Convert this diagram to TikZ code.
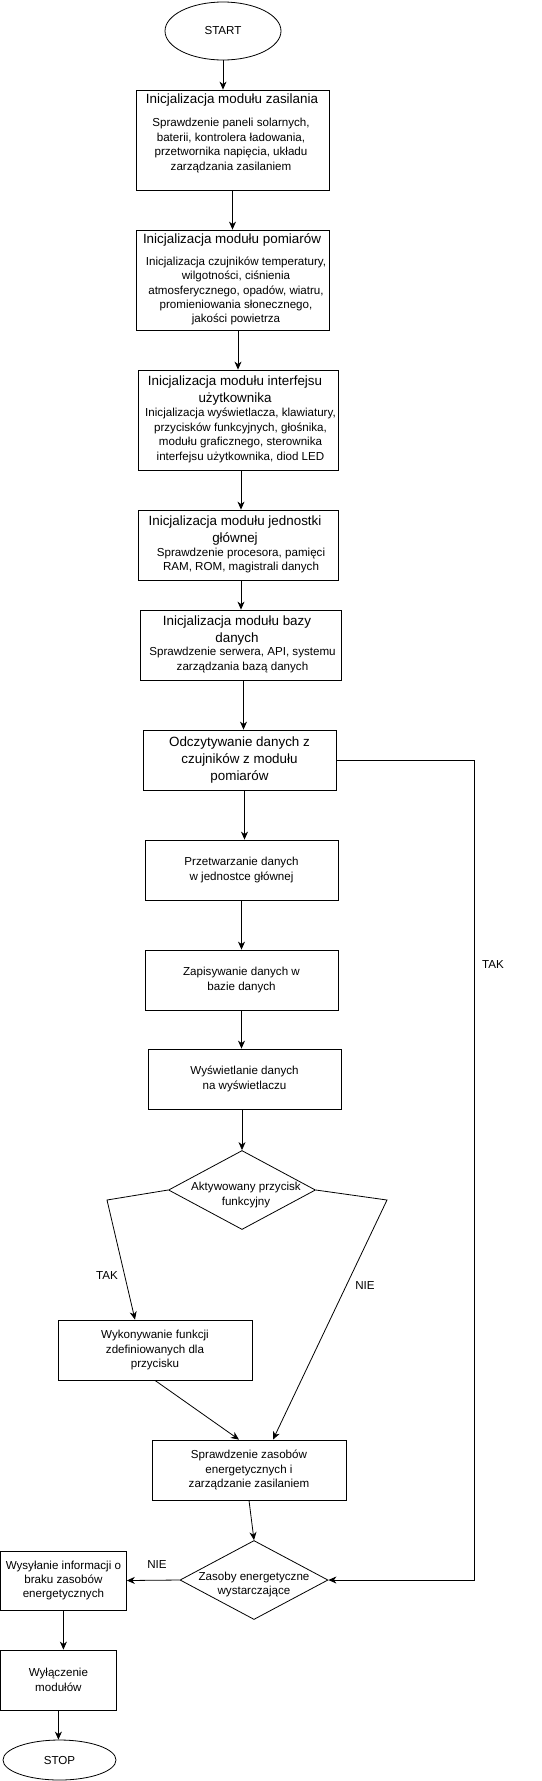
\documentclass[tikz,border=0pt]{standalone}
\usepackage{fontspec}
\setmainfont{Liberation Sans}
\usetikzlibrary{arrows.meta, positioning, shapes.geometric}

\begin{document}
\begin{tikzpicture}[
    x=1pt, y=-1pt,
    box/.style={draw, line width=0.8pt, inner sep=0pt, align=center},
    term/.style={draw, ellipse, line width=0.8pt, inner sep=0pt},
    dec/.style={draw, diamond, line width=0.8pt, inner sep=0pt},
    ttl/.style={font=\fontsize{13.4}{17}\selectfont, align=center, inner sep=0pt},
    txt/.style={font=\fontsize{11.6}{14.4}\selectfont, align=center, inner sep=0pt},
    lbl/.style={font=\fontsize{11.6}{14}\selectfont, inner sep=0pt},
    arrowstyle/.style={-{Stealth[length=8pt, width=7pt, inset=2.5pt]}, line width=0.8pt},
]
    \useasboundingbox (0,0) rectangle (541,1781);

    % Start
    \node[term, txt, minimum width=116pt, minimum height=58pt] (start) at (223,31) {START};

    % Initialisation of the modules
    \node[box, minimum width=193pt, minimum height=100pt] (zas) at (232.5,140) {};
    \node[ttl] (zasT) at (232,100) {Inicjalizacja modułu zasilania};
    \node[txt] (zasB) at (231,145.5) {Sprawdzenie paneli solarnych,\\baterii, kontrolera ładowania,\\przetwornika napięcia, układu\\zarządzania zasilaniem};

    \node[box, minimum width=193pt, minimum height=100pt] (pom) at (232.5,280) {};
    \node[ttl] (pomT) at (232,240) {Inicjalizacja modułu pomiarów};
    \node[txt] (pomB) at (236,291) {Inicjalizacja czujników temperatury,\\wilgotności, ciśnienia\\atmosferycznego, opadów, wiatru,\\promieniowania słonecznego,\\jakości powietrza};

    \node[box, minimum width=200pt, minimum height=100pt] (intf) at (238,420) {};
    \node[ttl] (intfT) at (235,390.5) {Inicjalizacja modułu interfejsu\\użytkownika};
    \node[txt] (intfB) at (240.5,435.5) {Inicjalizacja wyświetlacza, klawiatury,\\przycisków funkcyjnych, głośnika,\\modułu graficznego, sterownika\\interfejsu użytkownika, diod LED};

    \node[box, minimum width=200pt, minimum height=70pt] (jedn) at (238,545) {};
    \node[ttl] (jednT) at (235,531) {Inicjalizacja modułu jednostki\\głównej};
    \node[txt] (jednB) at (241,560.5) {Sprawdzenie procesora, pamięci\\RAM, ROM, magistrali danych};

    \node[box, minimum width=201pt, minimum height=70pt] (baza) at (240.5,645) {};
    \node[ttl] (bazaT) at (237,630.5) {Inicjalizacja modułu bazy\\danych};
    \node[txt] (bazaB) at (242.5,660) {Sprawdzenie serwera, API, systemu\\zarządzania bazą danych};

    % Main loop
    \node[box, ttl, minimum width=193pt, minimum height=60pt] (odcz) at (239.5,760) {Odczytywanie danych z\\czujników z modułu\\pomiarów};
    \node[box, txt, minimum width=193pt, minimum height=60pt] (przetw) at (241.5,870) {Przetwarzanie danych\\w jednostce głównej};
    \node[box, txt, minimum width=193pt, minimum height=60pt] (zapis) at (241.5,980) {Zapisywanie danych w\\bazie danych};
    \node[box, txt, minimum width=193pt, minimum height=60pt] (wysw) at (244.5,1079) {Wyświetlanie danych\\na wyświetlaczu};

    \node[dec, minimum width=147pt, minimum height=79pt] (btn) at (242,1190) {};
    \node[txt] (btnT) at (246,1195) {Aktywowany przycisk\\funkcyjny};
    \node[box, txt, minimum width=194pt, minimum height=60pt] (wyk) at (155,1350) {Wykonywanie funkcji\\zdefiniowanych dla\\przycisku};
    \node[box, txt, minimum width=194pt, minimum height=60pt] (spr) at (249,1470) {Sprawdzenie zasobów\\energetycznych i\\zarządzanie zasilaniem};
    \node[dec, minimum width=148pt, minimum height=79pt] (energ) at (254,1580) {};
    \node[txt] (energT) at (254,1584.5) {Zasoby energetyczne\\wystarczające};

    % Shutdown
    \node[box, txt, minimum width=126pt, minimum height=59pt] (info) at (63.4,1580.5) {Wysyłanie informacji o\\braku zasobów\\energetycznych};
    \node[box, txt, minimum width=116pt, minimum height=60pt] (wyl) at (58.4,1680) {Wyłączenie\\modułów};
    \node[term, txt, minimum width=113pt, minimum height=40pt] (stop) at (59.5,1760) {STOP};

    % Labels
    \node[lbl] (takR) at (493,964) {TAK};
    \node[lbl] (takL) at (107,1275) {TAK};
    \node[lbl] (nieR) at (365,1285) {NIE};
    \node[lbl] (nieB) at (157,1564) {NIE};

    \coordinate (btnL) at (107,1200);
    \coordinate (btnR) at (387,1200);
    \coordinate (loop) at (474,760);

    % Arrows
    \draw[arrowstyle] (start.south) -- (start.south |- zas.north);
    \draw[arrowstyle] (zas.south) -- (pom.north);
    \draw[arrowstyle] (pom.south -| intf.north) -- (intf.north);
    \draw[arrowstyle] ([xshift=3pt]intf.south) -- ([xshift=3pt]jedn.north);
    \draw[arrowstyle] ([xshift=3pt]jedn.south) -- ([xshift=3pt]jedn.south |- baza.north);
    \draw[arrowstyle] ([xshift=3pt]baza.south) -- ([xshift=4pt]odcz.north);
    \draw[arrowstyle] ([xshift=5pt]odcz.south) -- ([xshift=3pt]przetw.north);
    \draw[arrowstyle] (przetw.south) -- (zapis.north);
    \draw[arrowstyle] (zapis.south) -- (zapis.south |- wysw.north);
    \draw[arrowstyle] (btn.north |- wysw.south) -- (btn.north);
    \draw[arrowstyle] (btn.west) -- (btnL) -- ([xshift=-20pt]wyk.north);
    \draw[arrowstyle] (btn.east) -- (btnR) -- ([xshift=24pt]spr.north);
    \draw[arrowstyle] (wyk.south) -- ([xshift=-10pt]spr.north);
    \draw[arrowstyle] (spr.south) -- (energ.north);
    \draw[arrowstyle] (odcz.east) -- (loop) |- (energ.east);
    \draw[arrowstyle] (energ.west) -- (info.east);
    \draw[arrowstyle] (info.south) -- (info.south |- wyl.north);
    \draw[arrowstyle] (wyl.south) -- (wyl.south |- stop.north);

\end{tikzpicture}
\end{document}
